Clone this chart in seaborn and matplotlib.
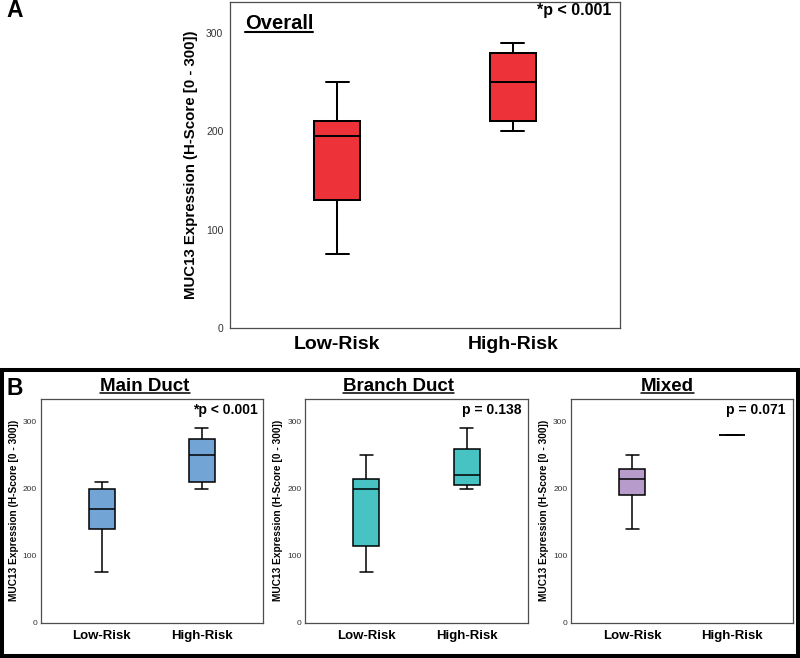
import numpy as np
import pandas as pd
import matplotlib
matplotlib.use('Agg')
import matplotlib.pyplot as plt
import seaborn as sns
from matplotlib.lines import Line2D
from matplotlib.patches import Rectangle

'''
MUC13 H-score boxplots, overall and by duct type
'''

groups = ['Low-Risk', 'High-Risk']

# min, q1, median, q3, max
overall_low = [75, 130, 195, 210, 250]
overall_high = [200, 210, 250, 280, 290]
main_low = [75, 140, 170, 200, 210]
main_high = [200, 210, 250, 275, 290]
branch_low = [75, 115, 200, 215, 250]
branch_high = [200, 205, 220, 260, 290]
mixed_low = [140, 190, 215, 230, 250]
mixed_high = [280, 280, 280, 280, 280]

panel_titles = ['Overall', 'Main Duct', 'Branch Duct', 'Mixed']
p_labels = ['*p < 0.001', '*p < 0.001', 'p = 0.138', 'p = 0.071']
box_colors = ['#EE3239', '#72A5D6', '#47C3C4', '#B79BCB']
ylab = 'MUC13 Expression (H-Score [0 - 300])'

W, H = 800, 658


def px(x, y):
    # pixel position (from top-left) -> figure fraction
    return x / W, 1 - y / H


def make_df(low, high):
    return pd.DataFrame({'group': [groups[0]] * len(low) + [groups[1]] * len(high),
                         'score': low + high})


def draw_panel(ax, df, col, lw, big):
    sns.boxplot(data=df, x='group', y='score', order=groups, color=col, width=0.26,
                whis=(0, 100), linewidth=lw, linecolor='black', saturation=1,
                showfliers=False, ax=ax)
    ax.set_xlim(-0.61, 1.61)
    ax.set_yticks([0, 100, 200, 300])
    ax.set_xlabel('')
    for s in ax.spines.values():
        s.set_visible(True)
        s.set_color('#4d4d4d')
        s.set_linewidth(0.9)
    if big:
        ax.set_ylim(0, 331.5)
        ax.tick_params(axis='y', length=4.3, width=0.8, color='#4d4d4d', labelsize=7.5,
                       labelcolor='#333333', pad=0.5, direction='out')
        ax.tick_params(axis='x', length=3, width=0.8, color='#4d4d4d', labelsize=14,
                       labelcolor='black', pad=3, direction='out')
        ax.set_ylabel(ylab, fontsize=10.8, fontweight='bold', color='black')
        ax.yaxis.set_label_coords(-0.082, 0.5)
    else:
        ax.set_ylim(0, 334)
        ax.tick_params(axis='y', length=2.4, width=0.7, color='#4d4d4d', labelsize=6,
                       labelcolor='#333333', pad=0.3, direction='out')
        ax.tick_params(axis='x', length=2, width=0.7, color='#4d4d4d', labelsize=9.5,
                       labelcolor='black', pad=3, direction='out')
        ax.set_ylabel(ylab, fontsize=7.3, fontweight='bold', color='black')
        ax.yaxis.set_label_coords(-0.099, 0.5)
    for lbl in ax.get_xticklabels():
        lbl.set_fontweight('bold')


def underlined(fig, x, y, txt, size, ha, off, lw):
    t = fig.text(*px(x, y), txt, fontsize=size, fontweight='bold', ha=ha, va='baseline',
                 color='black')
    fig.canvas.draw()
    bb = t.get_window_extent(fig.canvas.get_renderer())
    yy = 1 - (y + off) / H
    fig.add_artist(Line2D([bb.x0 / W, bb.x1 / W], [yy, yy], color='black', lw=lw,
                          transform=fig.transFigure))


if __name__ == "__main__":
    sns.set_theme(style='white')
    plt.rcParams['font.family'] = ['Liberation Sans', 'DejaVu Sans']
    plt.rcParams['text.color'] = 'black'
    plt.rcParams['axes.labelcolor'] = 'black'

    fig = plt.figure(figsize=(W / 100, H / 100), dpi=100)

    # ---------- panel A
    axA = fig.add_axes([230 / W, 1 - 328 / H, 390 / W, 326 / H])
    draw_panel(axA, make_df(overall_low, overall_high), box_colors[0], 1.45, True)

    # ---------- panel B
    datasets = [(main_low, main_high), (branch_low, branch_high), (mixed_low, mixed_high)]
    lefts = [40.7, 305.3, 571.0]
    for k in range(3):
        ax = fig.add_axes([lefts[k] / W, 1 - 622.7 / H, 222.3 / W, 223.7 / H])
        draw_panel(ax, make_df(*datasets[k]), box_colors[k + 1], 1.1, False)

    # ---------- texts
    fig.text(*px(6, 17), 'A', fontsize=16.5, fontweight='bold', ha='left', va='baseline')
    fig.text(*px(7, 395), 'B', fontsize=16.5, fontweight='bold', ha='left', va='baseline')

    fig.text(*px(611, 15), p_labels[0], fontsize=11.5, fontweight='bold', ha='right', va='baseline')
    underlined(fig, 245, 29, panel_titles[0], 14.5, 'left', 3.0, 1.5)

    p_right = [258, 521.7, 786]
    t_center = [145, 398.8, 667.5]
    for k in range(3):
        fig.text(*px(p_right[k], 414), p_labels[k + 1], fontsize=10, fontweight='bold',
                 ha='right', va='baseline')
        underlined(fig, t_center[k], 391, panel_titles[k + 1], 13.5, 'center', 1.8, 1.1)

    # border round panel B
    fig.add_artist(Rectangle((1.8 / W, 1 - 655.8 / H), 796.4 / W, 285.8 / H, fill=False,
                             edgecolor='black', lw=2.9, transform=fig.transFigure))

    plt.savefig('out.png', dpi=100)
